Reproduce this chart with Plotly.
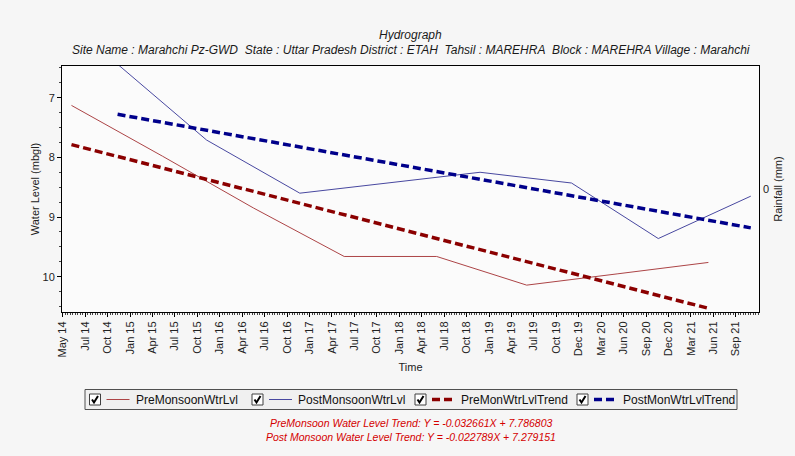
import plotly.graph_objects as go
from datetime import date, timedelta

# ---------------- data ----------------
pre_dates = ["2014-06-05", "2015-06-05", "2016-06-05", "2017-06-03",
             "2018-06-09", "2019-06-05", "2020-06-05", "2021-06-03"]
pre_levels = [7.13, 7.98, 8.85, 9.66, 9.66, 10.14, 9.95, 9.76]

post_dates = ["2014-12-07", "2015-11-29", "2016-12-07", "2017-12-01",
              "2018-11-30", "2019-12-02", "2020-11-14", "2021-11-20"]
post_levels = [6.44, 7.71, 8.60, 8.43, 8.25, 8.43, 9.36, 8.65]

pre_slope, pre_intercept = -0.032661, 7.786803
post_slope, post_intercept = -0.022789, 7.279151

tick_labels = ["May 14", "Jul 14", "Oct 14", "Jan 15", "Apr 15", "Jul 15", "Oct 15",
               "Jan 16", "Apr 16", "Jul 16", "Oct 16", "Jan 17", "Apr 17", "Jul 17",
               "Oct 17", "Jan 18", "Apr 18", "Jul 18", "Oct 18", "Jan 19", "Apr 19",
               "Jul 19", "Oct 19", "Dec 19", "Mar 20", "Jun 20", "Sep 20", "Dec 20",
               "Mar 21", "Jun 21", "Sep 21"]
tick_start = date(2014, 5, 1)
tick_step_days = 90

series_names = ["PreMonsoonWtrLvl", "PostMonsoonWtrLvl",
                "PreMonWtrLvlTrend", "PostMonWtrLvlTrend"]
series_colors = ["#ac4446", "#4848a0", "#8b0000", "#00008b"]

# ---------------- helpers ----------------
def d(s):
    return date.fromisoformat(s)

def trend(dates, slope, intercept):
    first = d(dates[0])
    xs = [dates[0], dates[-1]]
    ys = []
    for s in xs:
        months = (d(s) - first).days / 30.4375
        ys.append(intercept - slope * months)
    return xs, ys

pre_tx, pre_ty = trend(pre_dates, pre_slope, pre_intercept)
post_tx, post_ty = trend(post_dates, post_slope, post_intercept)

tickvals = [(tick_start + timedelta(days=tick_step_days * i)).isoformat()
            for i in range(len(tick_labels))]

FONT = "Liberation Sans, Arial, sans-serif"
DASH = "8px,4px"
BG = "#f6f6f6"

# plot area at page pixels (62,66)-(759,312)
L, T, R, B = 62, 66, 36, 144
W, H = 795, 456
PW, PH = W - L - R, H - T - B

def px(x):  # page x -> paper
    return (x - L) / PW

def py(y):  # page y -> paper
    return (T + PH - y) / PH

fig = go.Figure()
fig.add_trace(go.Scatter(x=pre_dates, y=pre_levels, mode="lines", name=series_names[0],
                         line=dict(color=series_colors[0], width=1)))
fig.add_trace(go.Scatter(x=post_dates, y=post_levels, mode="lines", name=series_names[1],
                         line=dict(color=series_colors[1], width=1)))
fig.add_trace(go.Scatter(x=pre_tx, y=pre_ty, mode="lines", name=series_names[2],
                         line=dict(color=series_colors[2], width=3.5, dash=DASH)))
fig.add_trace(go.Scatter(x=post_tx, y=post_ty, mode="lines", name=series_names[3],
                         line=dict(color=series_colors[3], width=3.5, dash=DASH)))
# rainfall axis (no rainfall data)
fig.add_trace(go.Scatter(x=[], y=[], yaxis="y2", showlegend=False, hoverinfo="skip"))

fig.update_layout(
    width=W, height=H,
    margin=dict(l=L, r=R, t=T, b=B, pad=0),
    paper_bgcolor=BG,
    plot_bgcolor="#fbfbfb",
    font=dict(family=FONT, size=11, color="#222222"),
    showlegend=False,
    xaxis=dict(
        type="date", automargin=False,
        range=["2014-04-28", "2021-12-23"],
        tickmode="array", tickvals=tickvals, ticktext=tick_labels,
        tickangle=-90, ticks="outside", ticklen=4, tickcolor="#000",
        tickfont=dict(size=11, color="#222"),
        showline=True, linecolor="#000", linewidth=1, mirror=True,
        showgrid=False, zeroline=False,
        minor=dict(ticks="outside", ticklen=2, tickcolor="#444",
                   tick0="2014-05-01", dtick=10 * 86400000, showgrid=False),
        title=dict(text="Time", standoff=6, font=dict(size=11)),
    ),
    yaxis=dict(
        automargin=False,
        range=[10.59, 6.47],
        tickvals=[7, 8, 9, 10],
        ticks="outside", ticklen=4, tickcolor="#000",
        showline=True, linecolor="#000", linewidth=1, mirror=True,
        showgrid=False, zeroline=False,
        minor=dict(ticks="outside", ticklen=2, tickcolor="#444", dtick=0.25,
                   tick0=0, showgrid=False),
        title=dict(text="Water Level (mbgl)", standoff=0, font=dict(size=11)),
    ),
    yaxis2=dict(
        automargin=False,
        overlaying="y", side="right", range=[-1, 1],
        tickvals=[0], ticks="", showgrid=False, zeroline=False, showline=False,
        ticklabelstandoff=3,
        tickfont=dict(size=11, color="#222"),
        title=dict(text="Rainfall (mm)", standoff=6, font=dict(size=11)),
    ),
)

# titles
fig.add_annotation(text="<i>Hydrograph</i>", x=0.5, y=py(35), xref="paper", yref="paper",
                   yanchor="middle", showarrow=False, font=dict(size=12, color="#1a1a1a"))
fig.add_annotation(
    text="<i>Site Name : Marahchi Pz-GWD\u00a0 State : Uttar Pradesh District : ETAH\u00a0 "
         "Tahsil : MAREHRA\u00a0 Block : MAREHRA Village : Marahchi</i>",
    x=0.5, y=py(50), xref="paper", yref="paper", yanchor="middle", showarrow=False,
    font=dict(size=12, color="#1a1a1a"))

# trend equations
fig.add_annotation(
    text=f"<i>PreMonsoon Water Level Trend: Y = {pre_slope:.6f}X + {pre_intercept:.6f}</i>",
    x=0.5, y=py(423), xref="paper", yref="paper", yanchor="middle", showarrow=False,
    font=dict(size=10.5, color="#d40000"))
fig.add_annotation(
    text=f"<i>Post Monsoon Water Level Trend: Y = {post_slope:.6f}X + {post_intercept:.6f}</i>",
    x=0.5, y=py(437), xref="paper", yref="paper", yanchor="middle", showarrow=False,
    font=dict(size=10.5, color="#d40000"))

# legend box with check boxes (drawn like the original control)
leg_y = 399.5
fig.add_shape(type="rect", xref="paper", yref="paper",
              x0=px(85), x1=px(737), y0=py(409.5), y1=py(389.5),
              line=dict(color="#505050", width=1), fillcolor="#f0f0f0", layer="above")
item_x = [89.5, 252, 415, 577]
for i, x0 in enumerate(item_x):
    fig.add_shape(type="rect", xref="paper", yref="paper",
                  x0=px(x0), x1=px(x0 + 11), y0=py(leg_y + 5.5), y1=py(leg_y - 5.5),
                  line=dict(color="#404040", width=1), fillcolor="#ffffff", layer="above")
    fig.add_shape(type="path", xref="paper", yref="paper",
                  path=(f"M {px(x0 + 2.5)},{py(leg_y)} L {px(x0 + 4.5)},{py(leg_y + 3)} "
                        f"L {px(x0 + 8.5)},{py(leg_y - 3.5)}"),
                  line=dict(color="#000000", width=2), layer="above")
    dashed = i >= 2
    fig.add_shape(type="line", xref="paper", yref="paper",
                  x0=px(x0 + 17), x1=px(x0 + 40),
                  y0=py(leg_y), y1=py(leg_y),
                  line=dict(color=series_colors[i], width=3.5 if dashed else 1,
                            dash=DASH if dashed else "solid"),
                  layer="above")
    fig.add_annotation(text=series_names[i], xref="paper", yref="paper",
                       x=px(x0 + 44), y=py(leg_y), xanchor="left", yanchor="middle",
                       showarrow=False, font=dict(size=12, color="#111111"))

fig.write_html(
    "out.html",
    config={"displayModeBar": False},
    post_script=(f"document.body.style.margin='0';"
                 f"document.body.style.backgroundColor='{BG}';"),
)
